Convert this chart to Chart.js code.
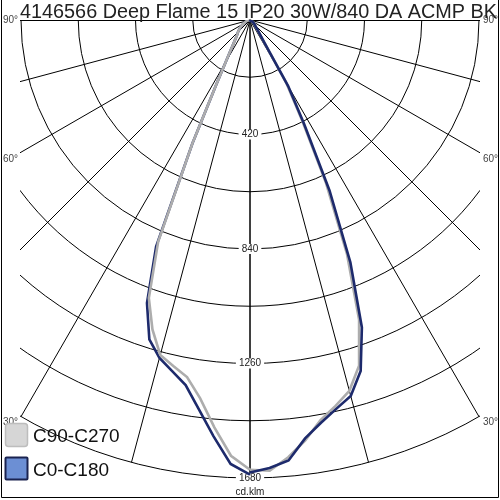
<!DOCTYPE html>
<html>
<head>
<meta charset="utf-8">
<script src="https://cdn.jsdelivr.net/npm/chart.js@4.4.0/dist/chart.umd.min.js"></script>
<style>
  html, body { margin: 0; padding: 0; background: #fff; }
  #wrap { width: 500px; height: 500px; position: relative; }
</style>
</head>
<body>
<div id="wrap"><canvas id="polar"></canvas></div>
<script>
// gamma angles (deg from nadir) and intensities (cd/klm) per C-plane half
var gammaAngles = [0, 2.5, 5, 7.5, 10, 12.5, 15, 17.5, 20, 22.5, 25, 27.5, 30, 32.5, 35, 37.5, 40, 45, 50, 55, 60, 65, 70, 75, 80, 85, 90];
var c0   = [1660, 1645, 1622, 1548, 1500, 1461, 1428, 1350, 1200, 962, 690, 430, 280, 99, 62, 45, 35, 25, 18, 12, 8, 5, 3, 2, 1, 0, 0];
var c180 = [1668, 1630, 1533, 1440, 1360, 1319, 1283, 1228, 1105, 900, 500, 270, 178, 132, 106, 88, 75, 62, 50, 40, 30, 22, 15, 10, 6, 3, 0];
var c90  = [1650, 1655, 1610, 1555, 1490, 1450, 1408, 1330, 1170, 930, 660, 410, 265, 95, 58, 42, 33, 24, 17, 11, 7, 4, 2, 1, 0, 0, 0];
var c270 = [1650, 1600, 1500, 1400, 1330, 1300, 1272, 1190, 1085, 880, 500, 270, 178, 132, 106, 88, 75, 62, 50, 40, 30, 22, 15, 10, 6, 3, 0];

var ringValues = [210, 420, 630, 840, 1050, 1260, 1470, 1680];
var ringLabels = [420, 840, 1260, 1680];
var spokeAngles = [0, 15, 30, 45, 60, 75];
var angleLabels = [90, 60, 30];
var titleText = '4146566 Deep Flame 15 IP20 30W/840 DA ACMP BK';
var unitText = 'cd.klm';

var NAVY = '#1d2a6c';
var GREY = '#adadad';

function toXY(values, side) {
    return values.map(function (v, i) {
        var a = gammaAngles[i] * Math.PI / 180;
        return { x: side * v * Math.sin(a), y: v * Math.cos(a) };
    });
}

var polarGrid = {
    id: 'polarGrid',
    beforeDatasetsDraw: function (chart) {
        var ctx = chart.ctx, a = chart.chartArea;
        var sx = chart.scales.x, sy = chart.scales.y;
        var cx = sx.getPixelForValue(0), cy = sy.getPixelForValue(0);
        var unit = Math.abs(sx.getPixelForValue(1000) - cx) / 1000;
        var R = ringValues[ringValues.length - 1] * unit;

        ctx.save();
        ctx.beginPath();
        ctx.rect(a.left, a.top - 1, a.right - a.left, a.bottom - a.top + 1);
        ctx.clip();
        ctx.strokeStyle = '#000';
        ctx.lineWidth = 1;
        ringValues.forEach(function (r) {
            ctx.beginPath();
            ctx.arc(cx, cy, r * unit, 0, Math.PI);
            ctx.stroke();
        });
        spokeAngles.forEach(function (g) {
            var t = g * Math.PI / 180;
            [-1, 1].forEach(function (s) {
                ctx.beginPath();
                ctx.moveTo(cx, cy);
                ctx.lineTo(cx + s * R * Math.sin(t), cy + R * Math.cos(t));
                ctx.stroke();
            });
        });
        ctx.beginPath();
        ctx.moveTo(a.left, cy + 0.5);
        ctx.lineTo(a.right, cy + 0.5);
        ctx.stroke();
        ctx.restore();

        // ring labels on the nadir axis
        ctx.save();
        ctx.font = '10px "Liberation Sans", Arial, sans-serif';
        ctx.textAlign = 'center';
        ctx.textBaseline = 'middle';
        ringLabels.forEach(function (r) {
            var py = cy + r * unit;
            var w = ctx.measureText(String(r)).width + 6;
            ctx.fillStyle = '#fff';
            ctx.fillRect(cx - w / 2, py - 5, w, 10);
            ctx.fillStyle = '#222';
            ctx.fillText(String(r), cx, py);
        });
        ctx.fillStyle = '#222';
        ctx.fillText(unitText, cx, cy + R + 14);

        // angle labels at the edges
        ctx.fillStyle = '#444';
        angleLabels.forEach(function (g) {
            var t = g * Math.PI / 180, py;
            if (g === 90) {
                py = cy;
            } else {
                var ex = Math.min(R * Math.sin(t), cx - a.left);
                py = cy + ex / Math.tan(t) + 6;
            }
            ctx.textAlign = 'right';
            ctx.fillText(g + '°', a.left - 2, py);
            ctx.textAlign = 'left';
            ctx.fillText(g + '°', a.right + 3, py);
        });
        ctx.restore();
    },
    afterDraw: function (chart) {
        var ctx = chart.ctx, W = chart.width, H = chart.height;
        ctx.save();
        // frame
        ctx.strokeStyle = '#000';
        ctx.lineWidth = 1;
        ctx.beginPath();
        ctx.moveTo(1.5, 0);
        ctx.lineTo(1.5, H - 2.5);
        ctx.lineTo(W - 1.5, H - 2.5);
        ctx.lineTo(W - 1.5, 0);
        ctx.stroke();

        // title
        ctx.fillStyle = '#222';
        ctx.font = '20px "Liberation Sans", Arial, sans-serif';
        ctx.textAlign = 'left';
        ctx.textBaseline = 'alphabetic';
        ctx.fillText(titleText, 20, 18, 477);

        // legend
        function box(x, y, w, h, r) {
            ctx.beginPath();
            ctx.moveTo(x + r, y);
            ctx.lineTo(x + w - r, y);
            ctx.quadraticCurveTo(x + w, y, x + w, y + r);
            ctx.lineTo(x + w, y + h - r);
            ctx.quadraticCurveTo(x + w, y + h, x + w - r, y + h);
            ctx.lineTo(x + r, y + h);
            ctx.quadraticCurveTo(x, y + h, x, y + h - r);
            ctx.lineTo(x, y + r);
            ctx.quadraticCurveTo(x, y, x + r, y);
            ctx.closePath();
        }
        box(5.5, 423.5, 22, 23, 3);
        ctx.fillStyle = '#d6d6d6';
        ctx.fill();
        ctx.strokeStyle = '#bdbdbd';
        ctx.lineWidth = 1.5;
        ctx.stroke();

        box(5.5, 457.5, 22, 22, 1);
        ctx.fillStyle = '#6c8fd4';
        ctx.fill();
        ctx.strokeStyle = '#1a2350';
        ctx.lineWidth = 2;
        ctx.stroke();

        ctx.fillStyle = '#111';
        ctx.font = '19px "Liberation Sans", Arial, sans-serif';
        ctx.fillText('C90-C270', 33, 442);
        ctx.fillText('C0-C180', 33, 476);
        ctx.restore();
    }
};

var ctx = document.getElementById('polar').getContext('2d');
var chart = new Chart(ctx, {
    type: 'scatter',
    data: {
        datasets: [
            { label: 'C0', data: toXY(c0, 1), borderColor: NAVY },
            { label: 'C90', data: toXY(c90, 1), borderColor: GREY },
            { label: 'C270', data: toXY(c270, -1), borderColor: GREY },
            { label: 'C180', data: toXY(c180, -1), borderColor: NAVY }
        ].map(function (d) {
            d.showLine = true;
            d.borderWidth = 2.6;
            d.pointRadius = 0;
            d.tension = 0;
            d.fill = false;
            return d;
        })
    },
    options: {
        responsive: true,
        maintainAspectRatio: false,
        animation: false,
        layout: { padding: { left: 20, right: 20, top: 20, bottom: 3 } },
        plugins: {
            legend: { display: false },
            tooltip: { enabled: false }
        },
        scales: {
            x: { type: 'linear', display: false, min: -843.7, max: 843.7 },
            y: { type: 'linear', display: false, reverse: true, min: 0, max: 1749.7 }
        }
    },
    plugins: [polarGrid]
});
</script>
</body>
</html>
